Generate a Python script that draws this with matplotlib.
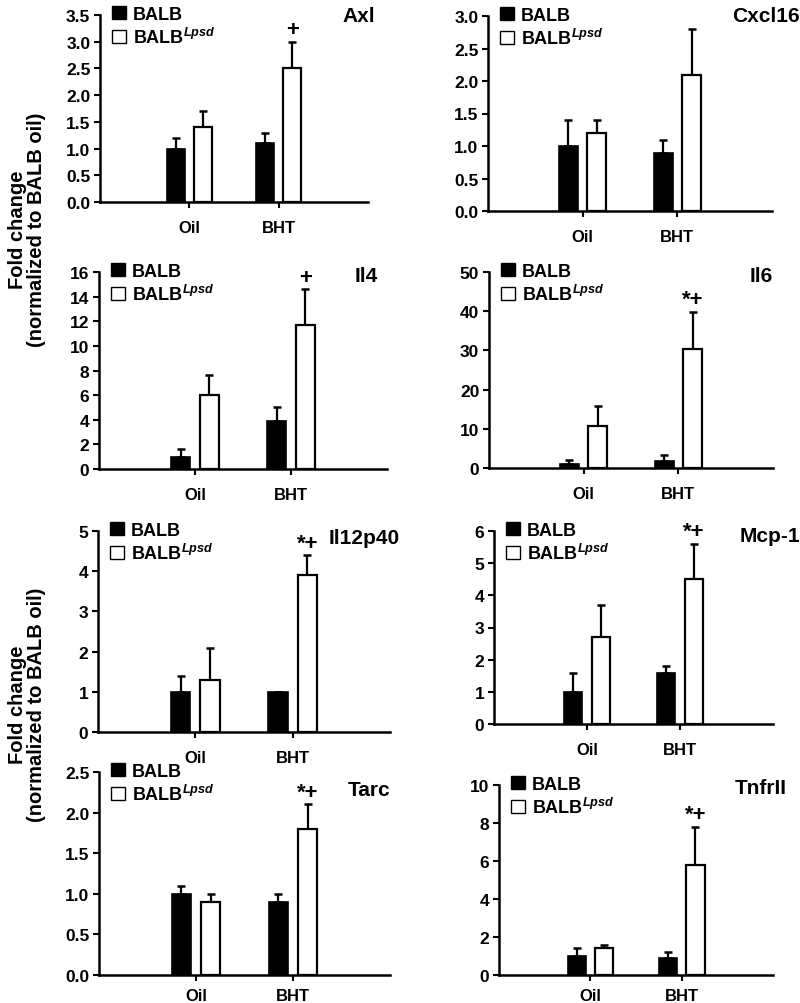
import matplotlib
matplotlib.use("Agg")
import matplotlib.pyplot as plt
from matplotlib.patches import Patch

plt.rcParams['font.family'] = ['Liberation Sans', 'DejaVu Sans']
plt.rcParams['font.weight'] = 'bold'
plt.rcParams['mathtext.fontset'] = 'custom'
plt.rcParams['mathtext.it'] = 'Liberation Sans:italic:bold'
plt.rcParams['mathtext.rm'] = 'Liberation Sans:bold'

groups = ["Oil", "BHT"]
genes = ["Axl", "Cxcl16", "Il4", "Il6", "Il12p40", "Mcp-1", "Tarc", "TnfrII"]
balb_mean = [[1.0, 1.1], [1.0, 0.9], [1.0, 3.9], [1.0, 1.7],
             [1.0, 1.0], [1.0, 1.6], [1.0, 0.9], [1.0, 0.9]]
balb_err = [[0.2, 0.2], [0.4, 0.2], [0.6, 1.1], [1.0, 1.7],
            [0.4, 0.0], [0.6, 0.2], [0.1, 0.1], [0.4, 0.3]]
lpsd_mean = [[1.4, 2.5], [1.2, 2.1], [6.0, 11.7], [10.6, 30.3],
             [1.3, 3.9], [2.7, 4.5], [0.9, 1.8], [1.4, 5.8]]
lpsd_err = [[0.3, 0.5], [0.2, 0.7], [1.6, 2.9], [5.2, 9.6],
            [0.8, 0.5], [1.0, 1.1], [0.1, 0.3], [0.2, 2.0]]
y_max = [3.5, 3.0, 16, 50, 5, 6, 2.5, 10]
y_step = [0.5, 0.5, 2, 10, 1, 1, 0.5, 2]
marks = ["+", "", "+", "*+", "*+", "*+", "*+", "*+"]

# axes boxes in pixels: left, top, right, bottom
boxes = [(100, 16, 368, 203), (488, 17, 772, 212),
         (99, 273, 387, 470), (489, 273, 773, 469),
         (98, 532, 390, 733), (494, 532, 773, 725),
         (99, 773, 390, 976), (499, 786, 773, 976)]
# title anchor (right edge x, center y) in pixels
title_pos = [(375, 16), (800, 16), (378, 276), (773, 276),
             (400, 539), (800, 537), (390, 791), (787, 789)]
xlabel_pad = [9, 9, 9, 9, 9, 9, 5.5, 5.5]

W, H = 800, 1004
fig = plt.figure(figsize=(W / 100, H / 100), dpi=100)

lw = 1.8
for i, gene in enumerate(genes):
    l, t, r, b = boxes[i]
    ax = fig.add_axes([l / W, 1 - b / H, (r - l) / W, (b - t) / H])
    x = [1, 2]
    xb = [v - 0.15 for v in x]
    xw = [v + 0.15 for v in x]
    ax.bar(xb, balb_mean[i], width=0.2, color="black", edgecolor="black", linewidth=1.2, zorder=2)
    ax.bar(xw, lpsd_mean[i], width=0.2, color="white", edgecolor="black", linewidth=1.6, zorder=2)
    ax.errorbar(xb, balb_mean[i], yerr=[[0, 0], balb_err[i]], fmt="none", ecolor="black",
                elinewidth=1.6, capsize=3, capthick=1.8, zorder=1)
    ax.errorbar(xw, lpsd_mean[i], yerr=[[0, 0], lpsd_err[i]], fmt="none", ecolor="black",
                elinewidth=1.6, capsize=3, capthick=1.8, zorder=1)
    if marks[i]:
        ax.annotate(marks[i], (xw[1], lpsd_mean[i][1] + lpsd_err[i][1]), xytext=(0, 1),
                    textcoords="offset points", ha="center", va="bottom",
                    fontsize=16, fontweight="bold")
    ax.set_xlim(0, 3)
    ax.set_ylim(0, y_max[i])
    n = int(round(y_max[i] / y_step[i]))
    ticks = [k * y_step[i] for k in range(n + 1)]
    ax.set_yticks(ticks)
    if y_step[i] < 1:
        ax.set_yticklabels(["%.1f" % v for v in ticks])
    else:
        ax.set_yticklabels(["%d" % v for v in ticks])
    ax.set_xticks(x)
    ax.set_xticklabels(groups, fontsize=12, fontweight="bold")
    ax.tick_params(axis="y", direction="out", length=4, width=1.5, labelsize=12.5, pad=3)
    ax.tick_params(axis="x", direction="out", length=4, width=1.5, pad=xlabel_pad[i])
    for s in ["top", "right"]:
        ax.spines[s].set_visible(False)
    for s in ["left", "bottom"]:
        ax.spines[s].set_linewidth(lw)
    ax.patch.set_visible(False)

    handles = [Patch(facecolor="black", edgecolor="black", linewidth=1.0),
               Patch(facecolor="white", edgecolor="black", linewidth=1.0)]
    ax.legend(handles, ["BALB", r"BALB$^{Lpsd}$"], loc="upper left",
              bbox_to_anchor=((l + 12) / W, 1 - (t - 9) / H), bbox_transform=fig.transFigure,
              frameon=False, handlelength=0.75, handleheight=0.75, handletextpad=0.4,
              labelspacing=0.2, borderaxespad=0, borderpad=0,
              prop={"size": 13, "weight": "bold"})

    tx, ty = title_pos[i]
    fig.text(tx / W, 1 - ty / H, gene, ha="right", va="center", fontsize=15, fontweight="bold")

for cy in [230, 705]:
    fig.text(27 / W, 1 - cy / H, "Fold change\n(normalized to BALB oil)", rotation=90,
             ha="center", va="center", multialignment="center", linespacing=1.05,
             fontsize=14.5, fontweight="bold")

fig.savefig("out.png", dpi=100)
